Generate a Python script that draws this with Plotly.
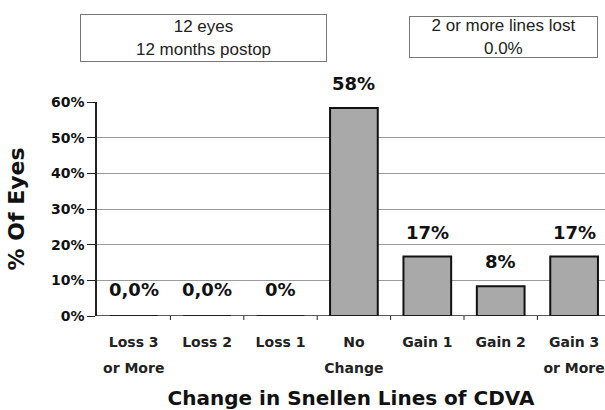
import plotly.graph_objects as go

categories = ["Loss 3", "Loss 2", "Loss 1", "No", "Gain 1", "Gain 2", "Gain 3"]
categories_line2 = ["or More", "", "", "Change", "", "", "or More"]
values = [0.0, 0.0, 0.0, 58.33, 16.67, 8.33, 16.67]
value_labels = ["0,0%", "0,0%", "0%", "58%", "17%", "8%", "17%"]
y_ticks = [0, 10, 20, 30, 40, 50, 60]
y_tick_labels = ["0%", "10%", "20%", "30%", "40%", "50%", "60%"]
box1_text = "12 eyes<br>12 months postop"
box2_text = "2 or more lines lost<br>0.0%"

W, H = 605, 410
L, R, T, B = 97, 0, 102, 94
pw, ph = W - L - R, H - T - B
xpos = list(range(len(categories)))

def px_x(px):
    return (px - L) / pw

def px_y(py):
    return (H - B - py) / ph

fig = go.Figure()
fig.add_trace(go.Bar(
    x=xpos, y=values, width=0.65,
    marker=dict(color="#a9a9a9", line=dict(color="#111111", width=2)),
    hoverinfo="skip", cliponaxis=False,
))
# invisible trace for second x axis (second line of category labels)
fig.add_trace(go.Scatter(x=xpos, y=[0]*len(xpos), xaxis="x2", mode="markers",
                         marker=dict(opacity=0), hoverinfo="skip", showlegend=False))

for xi, v, lab in zip(xpos, values, value_labels):
    fig.add_annotation(x=xi, y=v, text=lab, showarrow=False, yanchor="bottom",
                       yshift=12 if v > 0 else 14,
                       font=dict(family="DejaVu Sans", size=18, color="#111111",
                                 weight="bold"))

rng = [-0.5, (pw / 73.4) - 0.5]
tickfont = dict(family="DejaVu Sans", size=14, color="#222222", weight="bold")
fig.update_layout(
    width=W, height=H, margin=dict(l=L, r=R, t=T, b=B, autoexpand=False),
    paper_bgcolor="white", plot_bgcolor="white", showlegend=False,
    xaxis=dict(range=rng, tickvals=xpos, ticktext=categories, tickfont=tickfont,
               showgrid=False, zeroline=False, showline=False, automargin=False,
               ticks="", ticklabelstandoff=16,
               title=dict(text="Change in Snellen Lines of CDVA", standoff=42,
                          font=dict(family="DejaVu Sans", size=20, color="#111111",
                                    weight="bold"))),
    xaxis2=dict(range=rng, overlaying="x", side="bottom", anchor="y",
                tickvals=xpos, ticktext=categories_line2, tickfont=tickfont,
                showgrid=False, zeroline=False, showline=False, ticks="",
                automargin=False, ticklabelstandoff=42),
    yaxis=dict(range=[0, 60], tickvals=y_ticks, ticktext=y_tick_labels,
               showgrid=True, gridcolor="#9a9a9a", gridwidth=1, automargin=False,
               zeroline=False, showline=True, linecolor="#222222", linewidth=1.5,
               ticks="outside", ticklen=8, tickcolor="#222222",
               tickfont=dict(family="DejaVu Sans", size=14, color="#111111",
                             weight="bold"),
               title=dict(text="% Of Eyes", standoff=20,
                          font=dict(family="DejaVu Sans", size=22, color="#111111",
                                    weight="bold"))),
)
# baseline axis with small ticks at category boundaries
fig.add_shape(type="line", xref="paper", yref="y", x0=0, x1=1, y0=0, y1=0,
              line=dict(color="#222222", width=1.5))
for b in range(len(categories)):
    fig.add_shape(type="line", xref="x", yref="paper", x0=b + 0.5, x1=b + 0.5,
                  y0=0, y1=-4 / ph, line=dict(color="#222222", width=1))

fig.add_annotation(xref="paper", yref="paper", x=px_x(80), y=px_y(14),
                   xanchor="left", yanchor="top", width=245, height=46,
                   text=box1_text, showarrow=False, bordercolor="#777777",
                   borderwidth=1, borderpad=0, bgcolor="white",
                   font=dict(family="Liberation Sans, Arial", size=17, color="#222222"))
fig.add_annotation(xref="paper", yref="paper", x=px_x(409), y=px_y(16),
                   xanchor="left", yanchor="top", width=187, height=40,
                   text=box2_text, showarrow=False, bordercolor="#777777",
                   borderwidth=1, borderpad=0, bgcolor="white",
                   font=dict(family="Liberation Sans, Arial", size=17, color="#222222"))

fig.write_html("out.html", config={"displayModeBar": False},
               post_script="document.body.style.margin='0';document.body.style.overflow='hidden';")
